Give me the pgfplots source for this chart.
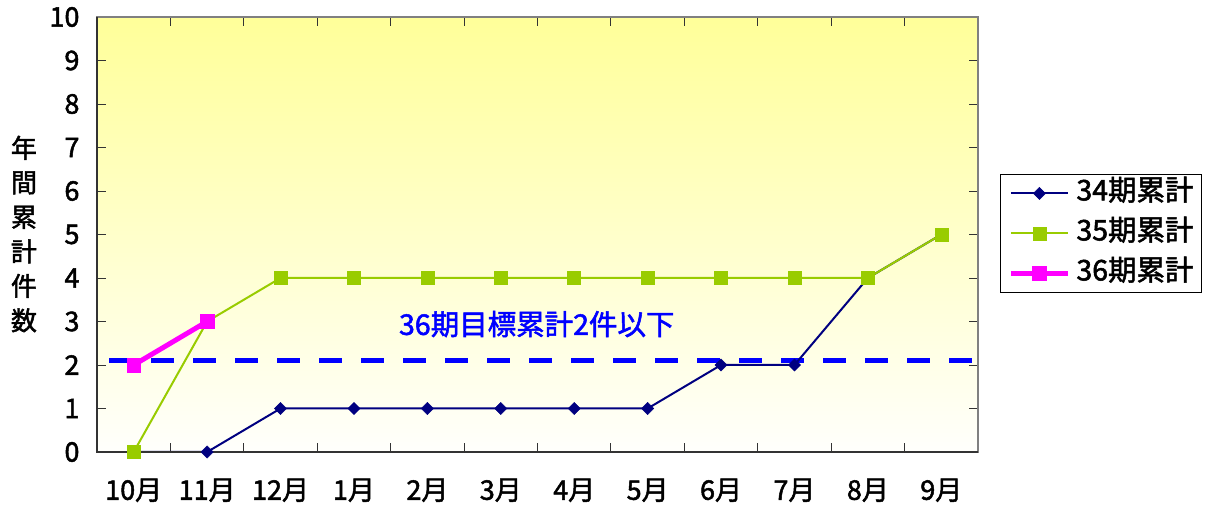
\documentclass[border=0pt]{standalone}
\usepackage{fontspec}
\setmainfont{Noto Sans CJK JP}[FakeBold=1.8]
\newfontfamily\jp{Noto Sans CJK JP}[FakeBold=1.8]
\usepackage{pgfplots}
\pgfplotsset{compat=1.18}

\definecolor{c34}{HTML}{000080}
\definecolor{c35}{HTML}{99CC00}
\definecolor{c36}{HTML}{FF00FF}
\definecolor{bgtop}{HTML}{FFFF99}
\definecolor{frameg}{HTML}{808080}
\definecolor{axdark}{HTML}{333333}

\begin{document}
\begin{tikzpicture}
\path[use as bounding box] (-97pt,-56pt) rectangle (1108pt,452pt);
\begin{axis}[
  scale only axis,
  width=881pt, height=435pt,
  xmin=-0.5, xmax=11.5,
  ymin=0, ymax=10,
  clip=false,
  axis background/.style={top color=bgtop, bottom color=white!97!bgtop},
  axis line style={draw=frameg, line width=1.5pt},
  tick align=inside,
  major tick length=9pt,
  tick style={draw=axdark, line width=0.9pt},
  ytick={0,...,10},
  xtick={-0.5,0.5,...,11.5},
  xticklabels={10月,11月,12月,1月,2月,3月,4月,5月,6月,7月,8月,9月,{}},
  xticklabel style={xshift=36.71pt, yshift=-23pt},
  yticklabel style={xshift=-14pt},
  tick label style={font=\jp\fontsize{27}{27}\selectfont},
  /pgf/number format/assume math mode=true,
  ylabel={年\\間\\累\\計\\件\\数},
  ylabel style={rotate=-90, align=center, anchor=center,
    at={(axis description cs:-0.0829,0.501)},
    font=\jp\fontsize{26}{34.5}\selectfont},
  legend style={
    at={(axis description cs:1.025,0.639)}, anchor=north west,
    draw=black, line width=0.8pt, fill=white,
    inner xsep=8pt, inner ysep=6pt,
    row sep=14pt, column sep=6pt,
    font=\jp\fontsize{28.5}{28.5}\selectfont,
    nodes={inner sep=0pt, text height=20pt, text depth=6pt},
  },
  legend cell align=left,
  legend image code/.code={%
    \draw[mark repeat=2,mark phase=2,#1]
      plot coordinates {(0pt,0pt)(28.5pt,0pt)(57pt,0pt)};},
]
% target line for the 36th period
\addplot[blue, line width=5pt, dash pattern=on 23pt off 19pt, forget plot]
  coordinates {(-0.33,2.1) (11.45,2.1)};

% 34th period cumulative
\addplot[c34, line width=2pt, mark=square*, mark size=4.3pt,
  mark options={rotate=45, solid, fill=c34, line width=0.5pt}]
  coordinates {(0,0)(1,0)(2,1)(3,1)(4,1)(5,1)(6,1)(7,1)(8,2)(9,2)(10,4)(11,5)};
\addlegendentry{34期累計}

% 35th period cumulative
\addplot[c35, line width=2pt, mark=square*, mark size=6.5pt,
  mark options={solid, fill=c35, line width=0.5pt}]
  coordinates {(0,0)(1,3)(2,4)(3,4)(4,4)(5,4)(6,4)(7,4)(8,4)(9,4)(10,4)(11,5)};
\addlegendentry{35期累計}

% 36th period cumulative
\addplot[c36, line width=5pt, mark=square*, mark size=6.8pt,
  mark options={solid, fill=c36, line width=0.5pt}]
  coordinates {(0,2)(1,3)};
\addlegendentry{36期累計}

\node[text=blue, font=\jp\fontsize{28.5}{28.5}\selectfont, anchor=center]
  at (axis cs:5.49,2.94) {36期目標累計2件以下};

% darker value and category axis lines
\draw[axdark, line width=1.5pt] (rel axis cs:0,1) -- (rel axis cs:0,0) -- (rel axis cs:1,0);
\end{axis}
\end{tikzpicture}
\end{document}
